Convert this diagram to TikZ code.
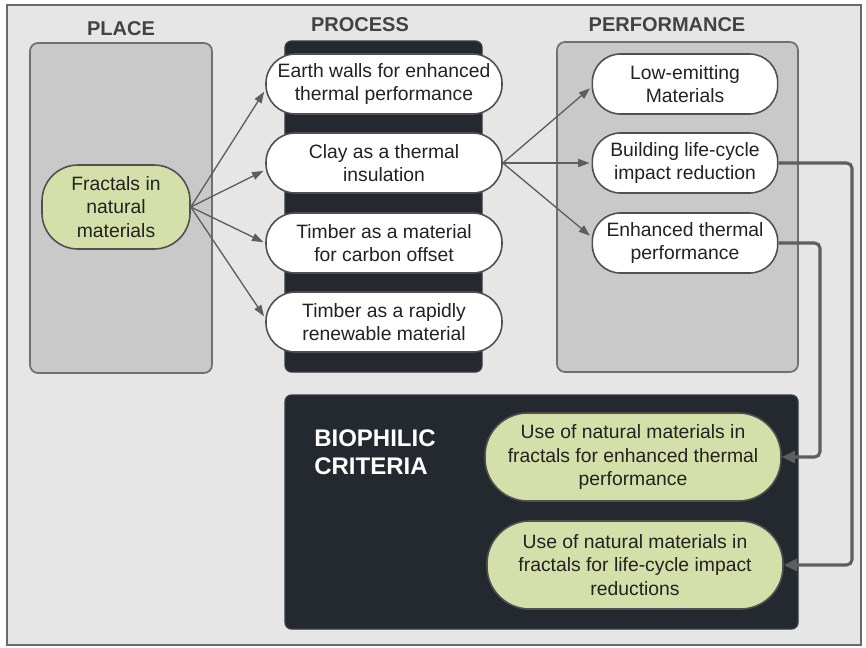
\documentclass[tikz,border=0pt]{standalone}
\usepackage{fontspec}
\setmainfont{Liberation Sans}
\usetikzlibrary{arrows.meta,calc}

\definecolor{framebg}{HTML}{E6E6E6}
\definecolor{frameline}{HTML}{6A6A6A}
\definecolor{colfill}{HTML}{C9C9C9}
\definecolor{colline}{HTML}{707070}
\definecolor{darkfill}{HTML}{24292F}
\definecolor{leaf}{HTML}{D5DFA9}
\definecolor{nodeline}{HTML}{505050}
\definecolor{wire}{HTML}{5E5E5E}
\definecolor{ink}{HTML}{222222}

\begin{document}
\begin{tikzpicture}[x=0.75pt,y=-0.75pt,
  bodytext/.style={font={\fontsize{14.5}{17.5}\selectfont}, text=ink, align=center, inner sep=0pt},
  heading/.style={font={\fontsize{15}{18}\selectfont\bfseries}, text=ink!85},
  column/.style={fill=colfill, draw=colline, line width=1.3pt, rounded corners=6pt},
  darkcol/.style={fill=darkfill, draw=darkfill!80!gray, line width=1pt, rounded corners=5pt},
  procnode/.style={bodytext, draw=nodeline, line width=1.2pt, fill=white,
    rounded corners=22pt, minimum width=177pt, minimum height=45pt},
  perfnode/.style={bodytext, draw=nodeline, line width=1.2pt, fill=white,
    rounded corners=21pt, minimum width=139pt, minimum height=45pt},
  leafnode/.style={bodytext, draw=nodeline, line width=1.2pt, fill=leaf,
    rounded corners=32pt, minimum width=222pt, minimum height=66pt},
  thinarrow/.style={draw=wire, line width=1pt, shorten >=1.5pt,
    -{Triangle[length=8.5pt,width=6pt]}},
  thickarrow/.style={draw=wire, line width=2.3pt, rounded corners=4pt,
    -{Triangle[length=10pt,width=9pt]}}
]
\useasboundingbox (0,0) rectangle (866,647);

% outer frame
\draw[fill=framebg, draw=frameline, line width=1.5pt] (7,5) rectangle (861,645);

% column panels
\draw[column] (30,43) rectangle (212,373);
\draw[darkcol] (285,41) rectangle (482,372);
\draw[column] (557,42) rectangle (798,372);
\draw[darkcol] (285,395) rectangle (798,629);

% headings
\node[heading] (hplace) at (121,29) {PLACE};
\node[heading] (hprocess) at (360,25) {PROCESS};
\node[heading] (hperf) at (667,25) {PERFORMANCE};
\node[font={\fontsize{18}{21}\selectfont\bfseries}, text=white, align=left,
      anchor=north west, inner sep=0pt] (hbio) at (314,429) {BIOPHILIC\\CRITERIA};

% place
\node[bodytext, draw=nodeline, line width=1.2pt, fill=leaf, rounded corners=27pt,
      minimum width=111pt, minimum height=63pt] (frac) at (116,207)
      {Fractals in\\natural\\materials};

% process
\node[procnode] (p1) at (384,84)  {Earth walls for enhanced\\thermal performance};
\node[procnode] (p2) at (384,163) {Clay as a thermal\\insulation};
\node[procnode] (p3) at (384,243) {Timber as a material\\for carbon offset};
\node[procnode] (p4) at (384,322) {Timber as a rapidly\\renewable material};

% performance
\node[perfnode] (f1) at (685,84)  {Low-emitting\\Materials};
\node[perfnode] (f2) at (685,163) {Building life-cycle\\impact reduction};
\node[perfnode] (f3) at (685,243) {Enhanced thermal\\performance};

% biophilic criteria
\node[leafnode] (g1) at (633,457) {Use of natural materials in\\fractals for enhanced thermal\\performance};
\node[leafnode] (g2) at (635,565) {Use of natural materials in\\fractals for life-cycle impact\\reductions};

% connectors: place -> process
\draw[thinarrow] (frac.east) -- ($(p1.west)+(0,6)$);
\draw[thinarrow] (frac.east) -- ($(p2.west)+(0,7)$);
\draw[thinarrow] (frac.east) -- (p3.west);
\draw[thinarrow] (frac.east) -- ($(p4.west)+(0,-4)$);

% connectors: process -> performance
\draw[thinarrow] (p2.east) -- ($(f1.west)+(0,3)$);
\draw[thinarrow] (p2.east) -- (f2.west);
\draw[thinarrow] (p2.east) -- ($(f3.west)+(0,-6)$);

% connectors: performance -> biophilic criteria
\coordinate (rail1) at (820,0);
\coordinate (rail2) at (852,0);
\draw[thickarrow] (f2.east) -- (f2.east -| rail2) |- (g2.east);
\draw[thickarrow] (f3.east) -- (f3.east -| rail1) |- (g1.east);
\end{tikzpicture}
\end{document}
